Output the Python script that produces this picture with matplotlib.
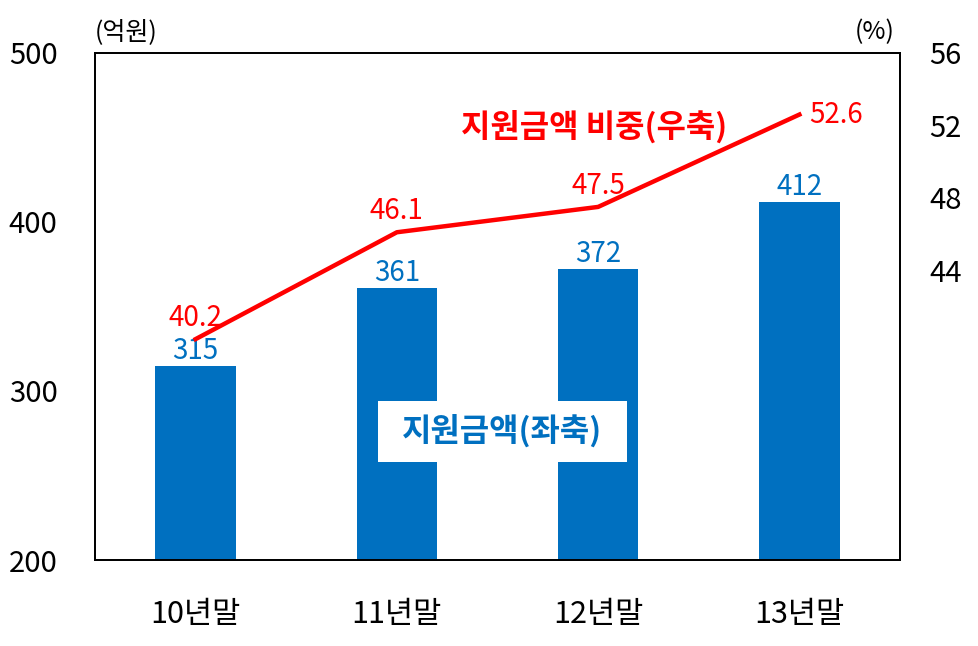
import matplotlib.pyplot as plt
import matplotlib.patches as mpatches
import numpy as np

plt.rcParams["font.family"] = ["Noto Sans CJK KR", "DejaVu Sans"]

categories = ["10년말", "11년말", "12년말", "13년말"]
amount = [315, 361, 372, 412]  # 억원, left axis
share = [40.2, 46.1, 47.5, 52.6]  # %, right axis

blue = "#0070C0"
red = "#FF0000"

fig = plt.figure(figsize=(9.79, 6.46), dpi=100)
ax = fig.add_axes([95 / 979, 86 / 646, 805 / 979, 507 / 646])
x = np.arange(len(categories))

ax.bar(x, amount, width=0.4, color=blue, zorder=2)
ax.set_ylim(200, 500)
ax.set_xlim(-0.5, 3.5)
ax.set_yticks([200, 300, 400, 500])
ax.set_xticks(x)
ax.set_xticklabels(categories, fontsize=22)
ax.tick_params(axis="y", length=0, labelsize=21, pad=27)
ax.tick_params(axis="x", length=0, pad=28)
for v, a in zip(x, amount):
    ax.text(v, a, str(a), ha="center", va="bottom", fontsize=20, color=blue)

ax2 = ax.twinx()
ax2.plot(x, share, color=red, lw=3.2, zorder=3)
ax2.set_ylim(28, 56)
ax2.set_yticks([44, 48, 52, 56])
ax2.tick_params(axis="y", length=0, labelsize=21, pad=21)

# red value labels above the line, last one to the right of the end point
for v, s in zip(x[:-1], share[:-1]):
    ax2.text(v, s + 0.35, f"{s:.1f}", ha="center", va="bottom", fontsize=20, color=red)
ax2.text(x[-1] + 0.05, share[-1], f"{share[-1]:.1f}", ha="left", va="center",
         fontsize=20, color=red)

for a in (ax, ax2):
    for sp in a.spines.values():
        sp.set_linewidth(1.3)
        sp.set_color("black")

ax2.text(1.98, 51.9, "지원금액 비중(우축)", ha="center", va="center",
         fontsize=23, fontweight="bold", color=red)

box = mpatches.Rectangle((0.3516, 0.1933), 0.3094, 0.1203, transform=ax2.transAxes,
                         facecolor="white", edgecolor="none", zorder=4)
ax2.add_patch(box)
ax2.text(0.506, 0.2535, "지원금액(좌축)", transform=ax2.transAxes, ha="center",
         va="center", fontsize=23, fontweight="bold", color=blue, zorder=5)

fig.text(95 / 979, 1 - 32 / 646, "(억원)", ha="left", va="center", fontsize=18)
fig.text(895 / 979, 1 - 32 / 646, "(%)", ha="right", va="center", fontsize=18)

fig.savefig("out.png", dpi=100)
